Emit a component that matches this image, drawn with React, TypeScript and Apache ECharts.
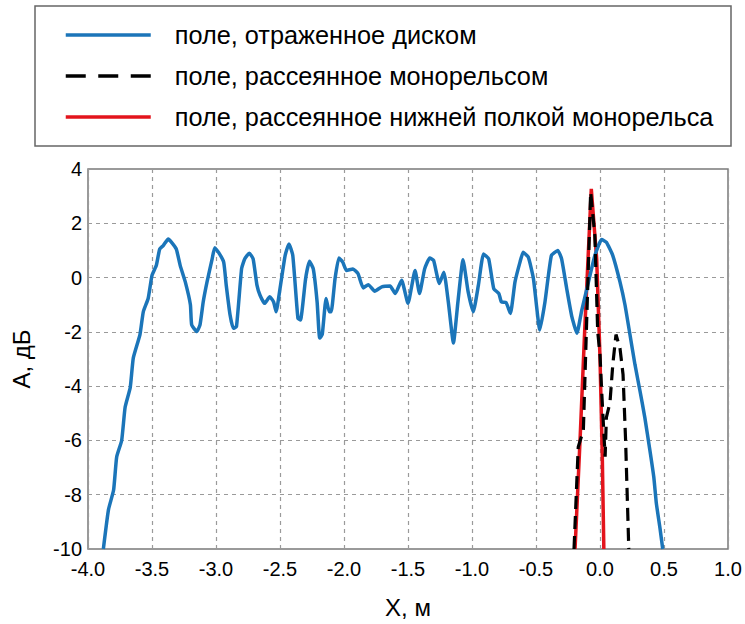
import React, { useEffect, useRef } from "react";
import * as echarts from "echarts";

const FONT = "'Liberation Sans', Arial, sans-serif";

const legendNames = [
  "поле, отраженное диском",
  "поле, рассеянное монорельсом",
  "поле, рассеянное нижней полкой монорельса",
];

const blueX = [
  -3.88, -3.84, -3.8, -3.776, -3.737, -3.71, -3.67, -3.646, -3.594, -3.568, -3.53, -3.5, -3.466, -3.44,
  -3.412, -3.373, -3.347, -3.31, -3.28, -3.24, -3.2, -3.19, -3.15, -3.125, -3.1, -3.07, -3.03, -3.01,
  -2.98, -2.94, -2.92, -2.89, -2.865, -2.84, -2.8, -2.775, -2.74, -2.71, -2.68, -2.656, -2.62, -2.58,
  -2.55, -2.53, -2.5, -2.46, -2.43, -2.4, -2.36, -2.34, -2.3, -2.27, -2.24, -2.21, -2.19, -2.17, -2.14,
  -2.115, -2.1, -2.07, -2.04, -2.01, -1.98, -1.93, -1.89, -1.85, -1.81, -1.76, -1.705, -1.64, -1.6,
  -1.55, -1.5, -1.445, -1.41, -1.37, -1.33, -1.3, -1.255, -1.22, -1.185, -1.145, -1.11, -1.07, -1.03,
  -0.99, -0.95, -0.91, -0.87, -0.83, -0.79, -0.77, -0.734, -0.7, -0.664, -0.625, -0.6, -0.56, -0.52,
  -0.47, -0.43, -0.38, -0.33, -0.3, -0.26, -0.22, -0.18, -0.145, -0.09, -0.04, 0.013, 0.05, 0.1, 0.156,
  0.195, 0.234, 0.273, 0.3125, 0.35, 0.39, 0.42, 0.44, 0.47, 0.49,
];
const blueY = [
  -10, -8.55, -7.83, -6.61, -6.0, -4.78, -4.05, -2.96, -2.1, -1.26, -0.77, 0.08, 0.45, 1.05,
  1.18, 1.42, 1.3, 1.05, 0.45, -0.16, -1.0, -1.74, -1.99, -1.74, -0.9, -0.16, 0.69, 1.1,
  0.93, 0.57, -0.28, -1.38, -1.87, -1.8, 0.33, 0.69, 0.9, 0.69, -0.28, -0.65, -0.95, -0.71,
  -0.9, -1.26, -0.41, 0.81, 1.24, 0.81, -1.5, -1.56, -0.04, 0.6, 0.32, -0.9, -2.23, -2.1, -0.77,
  -1.26, -1.26, -0.04, 0.72, 0.57, 0.26, 0.32, 0.14, -0.38, -0.26, -0.5, -0.34, -0.31, -0.59,
  -0.1, -0.95, 0.26, -0.59, 0.32, 0.72, 0.63, -0.22, 0.2, -0.9, -2.41, -0.9, 0.66, -0.53,
  -1.26, -0.28, 0.87, 0.69, -0.41, -0.59, -0.9, -0.92, -1.32, -0.16, 0.57, 0.93, 0.75, -0.04,
  -1.93, -0.9, 0.81, 1.0, 0.69, -0.41, -1.44, -2.05, -1.26, -0.16, 0.81, 1.4, 1.3, 0.81, -0.16,
  -1.0, -2.1, -3.2, -4.18, -5.15, -6.37, -7.34, -8.31, -9.28, -10,
];

const blackX = [-0.203, -0.17, -0.13, -0.105, -0.073, -0.04, -0.018, 0, 0.013, 0.04, 0.05, 0.078, 0.1, 0.125, 0.156, 0.18, 0.2, 0.225];
const blackY = [-10, -6.24, -5.63, -1.74, 3.15, 1.54, -1.99, -2.84, -4.18, -6.6, -5.15, -4.6, -3.2, -2.1, -2.6, -3.57, -6.0, -10];

const redX = [-0.195, -0.156, -0.12, -0.068, -0.026, 0, 0.018, 0.03];
const redY = [-10, -6.0, -2.0, 3.27, 0.69, -2.96, -6.6, -10];

const xTicks = { min: -4, max: 1, interval: 0.5 };
const yTicks = { min: -10, max: 4, interval: 2 };

const pairs = (xs: number[], ys: number[]) => xs.map((x, i) => [x, ys[i]]);

export default function App() {
  const ref = useRef<HTMLDivElement>(null);
  useEffect(() => {
    if (!ref.current) return;
    const chart = echarts.init(ref.current, undefined, { renderer: "svg" });
    const gridLine = { show: true, lineStyle: { color: "#9a9a9a", type: [4, 4] as any, width: 1.2 } };
    chart.setOption({
      animation: false,
      backgroundColor: "#fff",
      grid: {
        left: 88,
        right: 17,
        top: 169,
        bottom: 71,
        show: true,
        borderColor: "#7a7a7a",
        borderWidth: 1.5,
        backgroundColor: "transparent",
      },
      legend: {
        orient: "vertical",
        left: 59,
        top: 15,
        itemWidth: 85,
        itemHeight: 30,
        itemGap: 11,
        itemStyle: { opacity: 0 },
        lineStyle: { width: 3.5 },
        data: [
          { name: legendNames[0] },
          { name: legendNames[1], lineStyle: { type: [20, 12.5] as any } },
          { name: legendNames[2] },
        ],
        textStyle: { fontSize: 25.3, fontFamily: FONT, color: "#000", padding: [0, 0, 0, 19], lineHeight: 30 },
      },
      graphic: [
        {
          type: "rect",
          shape: { x: 35, y: 6, width: 696, height: 140 },
          style: { fill: "none", stroke: "#666", lineWidth: 1.5 },
          silent: true,
        },
      ],
      xAxis: {
        type: "value",
        min: xTicks.min,
        max: xTicks.max,
        interval: xTicks.interval,
        name: "X, м",
        nameLocation: "middle",
        nameGap: 46,
        nameTextStyle: { fontSize: 24, fontFamily: FONT, color: "#000" },
        axisLine: { show: false },
        axisTick: { show: false },
        axisLabel: {
          fontSize: 20,
          fontFamily: FONT,
          color: "#000",
          margin: 10,
          formatter: (v: number) => v.toFixed(1),
        },
        splitLine: gridLine,
      },
      yAxis: {
        type: "value",
        min: yTicks.min,
        max: yTicks.max,
        interval: yTicks.interval,
        name: "А, дБ",
        nameLocation: "middle",
        nameGap: 55,
        nameTextStyle: { fontSize: 24, fontFamily: FONT, color: "#000" },
        axisLine: { show: false },
        axisTick: { show: false },
        axisLabel: { fontSize: 20, fontFamily: FONT, color: "#000", margin: 6 },
        splitLine: gridLine,
      },
      series: [
        {
          name: legendNames[0],
          type: "line",
          data: pairs(blueX, blueY),
          symbol: "none",
          smooth: 0.15,
          z: 3,
          lineStyle: { color: "#1b75b9", width: 3.5 },
          itemStyle: { color: "#1b75b9" },
        },
        {
          name: legendNames[1],
          type: "line",
          data: pairs(blackX, blackY),
          symbol: "none",
          z: 4,
          lineStyle: { color: "#000", width: 3.2, type: [13, 7] as any },
          itemStyle: { color: "#000" },
        },
        {
          name: legendNames[2],
          type: "line",
          data: pairs(redX, redY),
          symbol: "none",
          z: 2,
          lineStyle: { color: "#e3141c", width: 3.5 },
          itemStyle: { color: "#e3141c" },
        },
      ],
    });
    return () => chart.dispose();
  }, []);
  return (
    <div
      ref={ref}
      style={{ position: "fixed", left: 0, top: 0, width: 745, height: 624, background: "#fff" }}
    />
  );
}
